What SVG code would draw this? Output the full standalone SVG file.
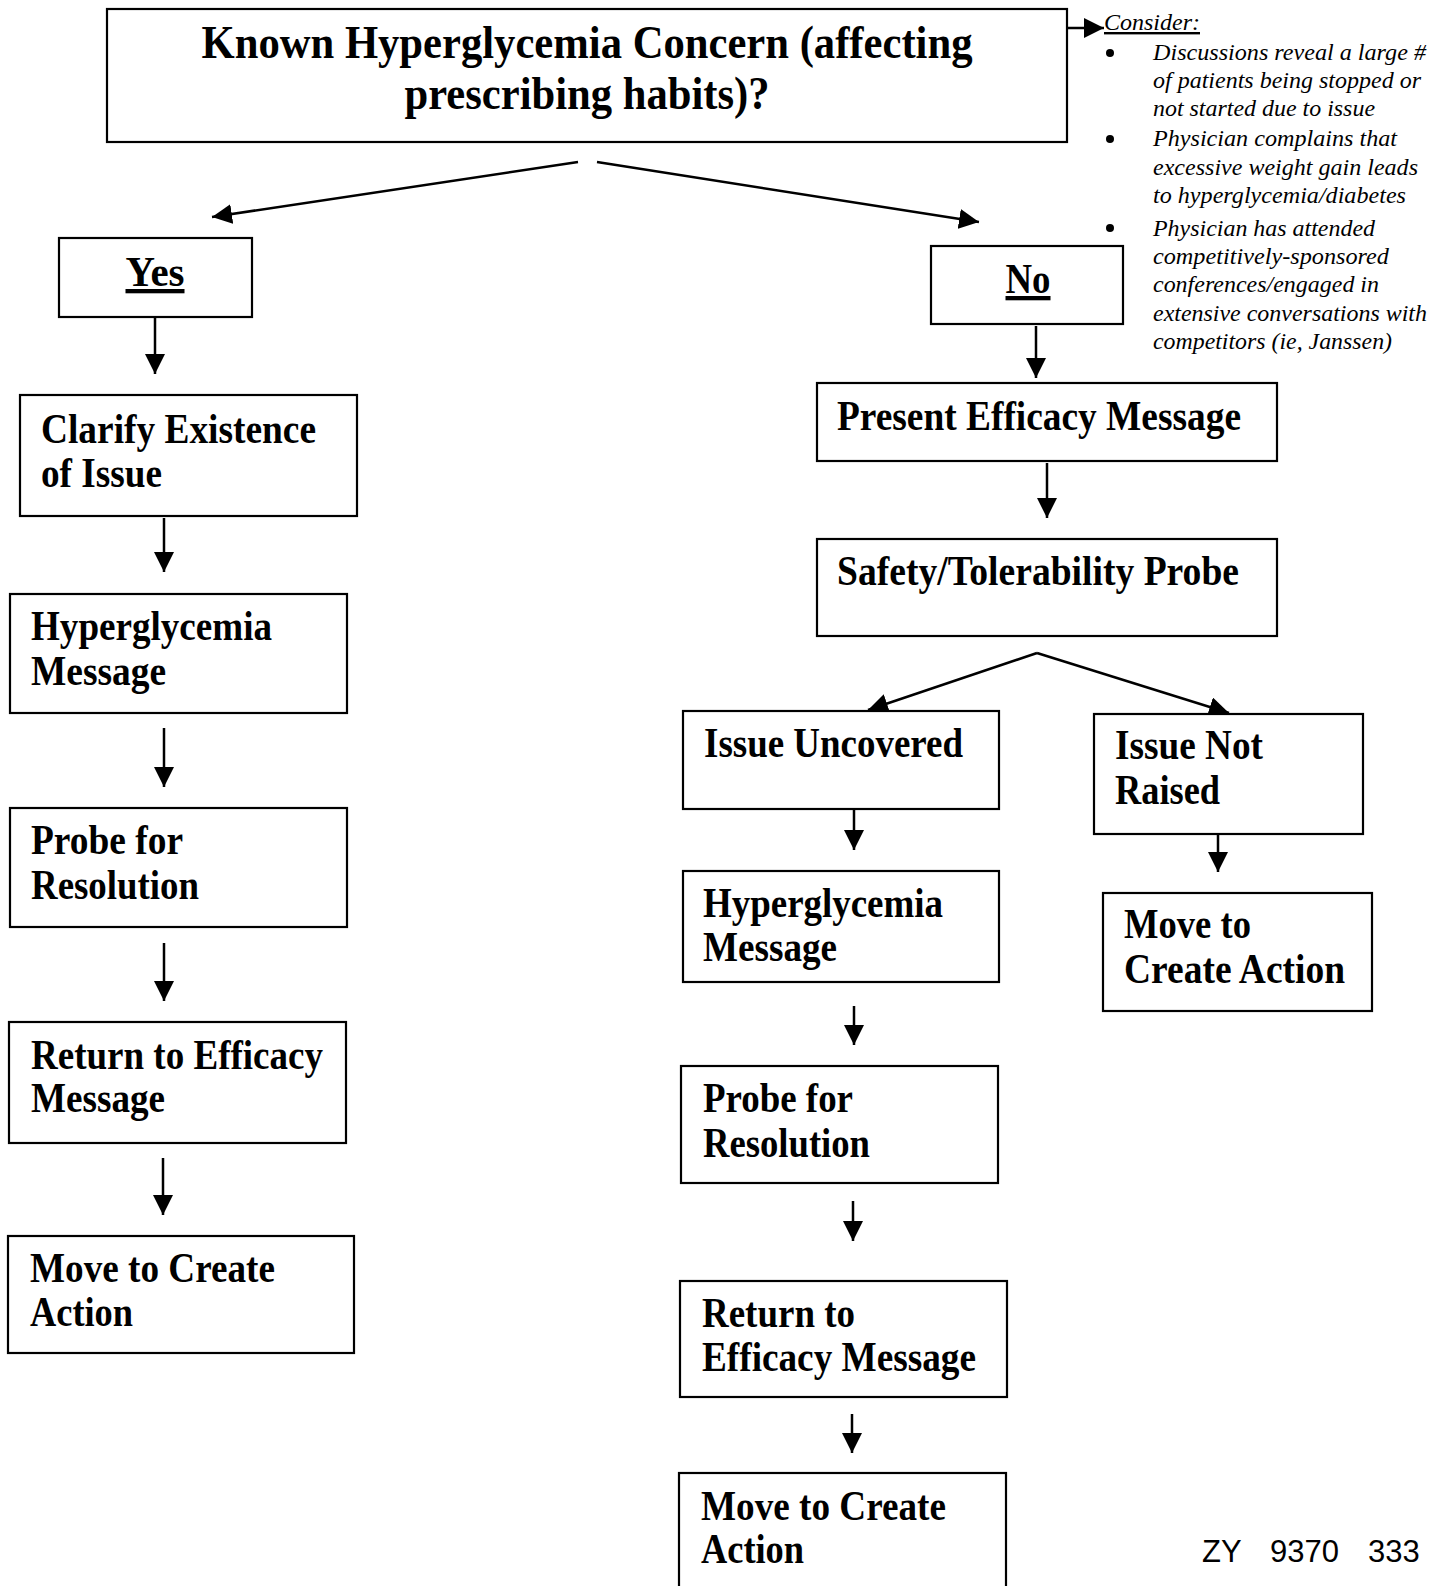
<svg xmlns="http://www.w3.org/2000/svg" width="1444" height="1586" viewBox="0 0 1444 1586">
<style>
.box{fill:#fff;stroke:#000;stroke-width:2.2}
.t{font-family:"Liberation Serif","Times New Roman",serif;font-weight:bold;font-size:43px;fill:#000}
.ti{font-family:"Liberation Serif","Times New Roman",serif;font-weight:bold;font-size:47px;fill:#000}
.it{font-family:"Liberation Serif","Times New Roman",serif;font-style:italic;font-size:24px;fill:#000}
.c{stroke:#000;stroke-width:2.5;fill:none}
.sans{font-family:"Liberation Sans",Arial,sans-serif;font-size:31px;fill:#000}
</style>
<defs>
<marker id="ah" viewBox="0 0 20 20" refX="20" refY="10" markerWidth="20" markerHeight="20" markerUnits="userSpaceOnUse" orient="auto">
<path d="M0,0 L20,10 L0,20 z" fill="#000"/>
</marker>
</defs>
<rect width="1444" height="1586" fill="#fff"/>

<g id="connectors">
<path class="c" d="M1067,28 H1104" marker-end="url(#ah)"/>
<path class="c" d="M578,162 L212,217" marker-end="url(#ah)"/>
<path class="c" d="M597,162 L979,222" marker-end="url(#ah)"/>
<path class="c" d="M155,318 V374" marker-end="url(#ah)"/>
<path class="c" d="M164,518 V572" marker-end="url(#ah)"/>
<path class="c" d="M164,728 V787" marker-end="url(#ah)"/>
<path class="c" d="M164,943 V1001" marker-end="url(#ah)"/>
<path class="c" d="M163,1158 V1215" marker-end="url(#ah)"/>
<path class="c" d="M1036,326 V378" marker-end="url(#ah)"/>
<path class="c" d="M1047,463 V518" marker-end="url(#ah)"/>
<path class="c" d="M1037,653 L868,710" marker-end="url(#ah)"/>
<path class="c" d="M1037,653 L1229,713" marker-end="url(#ah)"/>
<path class="c" d="M854,809 V850" marker-end="url(#ah)"/>
<path class="c" d="M1218,834 V872" marker-end="url(#ah)"/>
<path class="c" d="M854,1006 V1045" marker-end="url(#ah)"/>
<path class="c" d="M853,1201 V1241" marker-end="url(#ah)"/>
<path class="c" d="M852,1414 V1453" marker-end="url(#ah)"/>
</g>

<g id="n-top">
<rect class="box" x="107" y="9" width="960" height="133"/>
<text class="ti" x="587" y="58" text-anchor="middle" textLength="771" lengthAdjust="spacingAndGlyphs">Known Hyperglycemia Concern (affecting</text>
<text class="ti" x="587" y="109" text-anchor="middle" textLength="365" lengthAdjust="spacingAndGlyphs">prescribing habits)?</text>
</g>

<g id="n-consider">
<text class="it" x="1104" y="30" text-decoration="underline" textLength="96" lengthAdjust="spacingAndGlyphs">Consider:</text>
<circle cx="1110" cy="53" r="4"/>
<circle cx="1110" cy="139" r="4"/>
<circle cx="1110" cy="228" r="4"/>
<text class="it" x="1153" y="60" textLength="273" lengthAdjust="spacingAndGlyphs">Discussions reveal a large #</text>
<text class="it" x="1153" y="88" textLength="268" lengthAdjust="spacingAndGlyphs">of patients being stopped or</text>
<text class="it" x="1153" y="116" textLength="222" lengthAdjust="spacingAndGlyphs">not started due to issue</text>
<text class="it" x="1153" y="146" textLength="244" lengthAdjust="spacingAndGlyphs">Physician complains that</text>
<text class="it" x="1153" y="175" textLength="265" lengthAdjust="spacingAndGlyphs">excessive weight gain leads</text>
<text class="it" x="1153" y="203" textLength="253" lengthAdjust="spacingAndGlyphs">to hyperglycemia/diabetes</text>
<text class="it" x="1153" y="236" textLength="222" lengthAdjust="spacingAndGlyphs">Physician has attended</text>
<text class="it" x="1153" y="264" textLength="236" lengthAdjust="spacingAndGlyphs">competitively-sponsored</text>
<text class="it" x="1153" y="292" textLength="226" lengthAdjust="spacingAndGlyphs">conferences/engaged in</text>
<text class="it" x="1153" y="321" textLength="274" lengthAdjust="spacingAndGlyphs">extensive conversations with</text>
<text class="it" x="1153" y="349" textLength="239" lengthAdjust="spacingAndGlyphs">competitors (ie, Janssen)</text>
</g>

<g id="n-yes">
<rect class="box" x="59" y="238" width="193" height="79"/>
<text class="t" x="155" y="286" text-anchor="middle" textLength="59" lengthAdjust="spacingAndGlyphs" text-decoration="underline">Yes</text>
</g>

<g id="n-no">
<rect class="box" x="931" y="246" width="192" height="78"/>
<text class="t" x="1028" y="293" text-anchor="middle" textLength="45" lengthAdjust="spacingAndGlyphs" text-decoration="underline">No</text>
</g>

<g id="n-clarify">
<rect class="box" x="20" y="395" width="337" height="121"/>
<text class="t" x="41" y="443" textLength="275" lengthAdjust="spacingAndGlyphs">Clarify Existence</text>
<text class="t" x="41" y="487" textLength="121" lengthAdjust="spacingAndGlyphs">of Issue</text>
</g>

<g id="n-hyper-l">
<rect class="box" x="10" y="594" width="337" height="119"/>
<text class="t" x="31" y="640" textLength="241" lengthAdjust="spacingAndGlyphs">Hyperglycemia</text>
<text class="t" x="31" y="685" textLength="135" lengthAdjust="spacingAndGlyphs">Message</text>
</g>

<g id="n-probe-l">
<rect class="box" x="10" y="808" width="337" height="119"/>
<text class="t" x="31" y="854" textLength="152" lengthAdjust="spacingAndGlyphs">Probe for</text>
<text class="t" x="31" y="899" textLength="168" lengthAdjust="spacingAndGlyphs">Resolution</text>
</g>

<g id="n-return-l">
<rect class="box" x="9" y="1022" width="337" height="121"/>
<text class="t" x="31" y="1069" textLength="292" lengthAdjust="spacingAndGlyphs">Return to Efficacy</text>
<text class="t" x="31" y="1112" textLength="134" lengthAdjust="spacingAndGlyphs">Message</text>
</g>

<g id="n-move-l">
<rect class="box" x="8" y="1236" width="346" height="117"/>
<text class="t" x="30" y="1282" textLength="245" lengthAdjust="spacingAndGlyphs">Move to Create</text>
<text class="t" x="30" y="1326" textLength="103" lengthAdjust="spacingAndGlyphs">Action</text>
</g>

<g id="n-present">
<rect class="box" x="817" y="383" width="460" height="78"/>
<text class="t" x="837" y="430" textLength="404" lengthAdjust="spacingAndGlyphs">Present Efficacy Message</text>
</g>

<g id="n-safety">
<rect class="box" x="817" y="539" width="460" height="97"/>
<text class="t" x="837" y="585" textLength="402" lengthAdjust="spacingAndGlyphs">Safety/Tolerability Probe</text>
</g>

<g id="n-uncovered">
<rect class="box" x="683" y="711" width="316" height="98"/>
<text class="t" x="704" y="757" textLength="259" lengthAdjust="spacingAndGlyphs">Issue Uncovered</text>
</g>

<g id="n-notraised">
<rect class="box" x="1094" y="714" width="269" height="120"/>
<text class="t" x="1115" y="759" textLength="148" lengthAdjust="spacingAndGlyphs">Issue Not</text>
<text class="t" x="1115" y="804" textLength="105" lengthAdjust="spacingAndGlyphs">Raised</text>
</g>

<g id="n-move-r">
<rect class="box" x="1103" y="893" width="269" height="118"/>
<text class="t" x="1124" y="938" textLength="127" lengthAdjust="spacingAndGlyphs">Move to</text>
<text class="t" x="1124" y="983" textLength="221" lengthAdjust="spacingAndGlyphs">Create Action</text>
</g>

<g id="n-hyper-m">
<rect class="box" x="683" y="871" width="316" height="111"/>
<text class="t" x="703" y="917" textLength="240" lengthAdjust="spacingAndGlyphs">Hyperglycemia</text>
<text class="t" x="703" y="961" textLength="134" lengthAdjust="spacingAndGlyphs">Message</text>
</g>

<g id="n-probe-m">
<rect class="box" x="681" y="1066" width="317" height="117"/>
<text class="t" x="703" y="1112" textLength="150" lengthAdjust="spacingAndGlyphs">Probe for</text>
<text class="t" x="703" y="1157" textLength="167" lengthAdjust="spacingAndGlyphs">Resolution</text>
</g>

<g id="n-return-m">
<rect class="box" x="680" y="1281" width="327" height="116"/>
<text class="t" x="702" y="1327" textLength="153" lengthAdjust="spacingAndGlyphs">Return to</text>
<text class="t" x="702" y="1371" textLength="274" lengthAdjust="spacingAndGlyphs">Efficacy Message</text>
</g>

<g id="n-move-m">
<rect class="box" x="679" y="1473" width="327" height="140"/>
<text class="t" x="701" y="1520" textLength="245" lengthAdjust="spacingAndGlyphs">Move to Create</text>
<text class="t" x="701" y="1563" textLength="103" lengthAdjust="spacingAndGlyphs">Action</text>
</g>

<g id="stamp">
<text class="sans" x="1202" y="1562">ZY</text>
<text class="sans" x="1270" y="1562">9370</text>
<text class="sans" x="1368" y="1562">333</text>
</g>
</svg>
